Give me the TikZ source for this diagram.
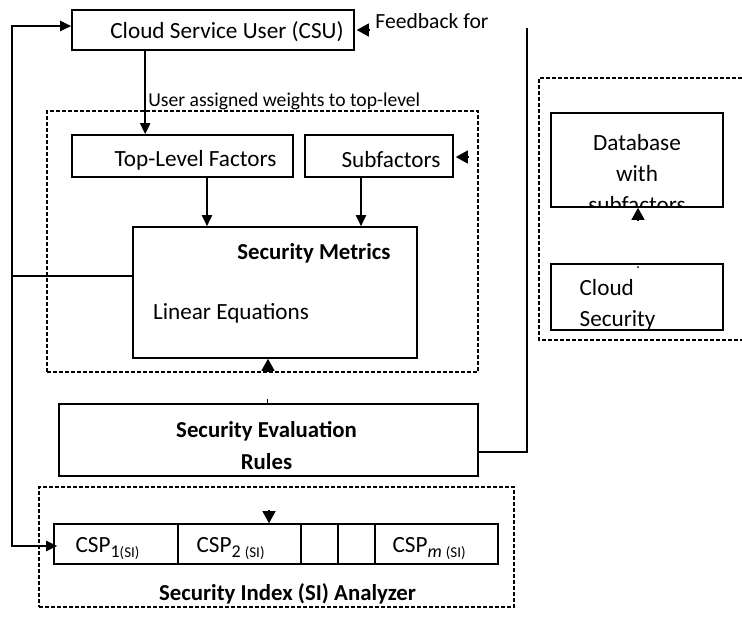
\documentclass[tikz,border=0pt]{standalone}
\usepackage{fontspec}
\setmainfont{Carlito}
\usetikzlibrary{arrows.meta, positioning, calc, fit}
\newcommand{\cspsub}[1]{\raisebox{-2.5pt}{\fontsize{9}{10}\selectfont #1}}
\newcommand{\sitag}{{\fontsize{7.5}{9}\selectfont(SI)}}
\tikzset{
	box/.style     ={rectangle, draw=black, line width=0.8pt, inner sep=0pt},
	dashline/.style={draw=black, line width=0.7pt, dash pattern=on 2pt off 1pt},
	frame/.style   ={rectangle, dashline, inner sep=0pt},
	wire/.style    ={line width=1pt},
	sig/.style     ={-{Triangle[length=5.5pt, width=5pt]}, line width=1pt},
	head/.style    ={-{Triangle[length=6pt, width=6.5pt]}, line width=0.6pt},
	lbl/.style     ={inner sep=0pt, align=center},
	bold/.style    ={lbl, font=\fontsize{11.4}{16}\selectfont\bfseries},
}
\begin{document}
\begin{tikzpicture}[x=0.5pt, y=-0.5pt, font=\fontsize{11.6}{15.5}\selectfont]
	\useasboundingbox (0,0) rectangle (742,617);
	% blocks
	\node[box, fit={(72,10) (354,50)}] (csu) {};
	\node[box, fit={(72,135) (293,177)}] (tlf) {};
	\node[box, fit={(305,135) (453,177)}] (subf) {};
	\node[box, fit={(133,227) (417,358)}] (sm) {};
	\node[box, fit={(59,404) (478,476)}] (rules) {};
	\node[box, fit={(551,113) (723,207)}] (db) {};
	\node[box, fit={(551,264) (723,330)}] (cs) {};
	\foreach \n/\a/\b in {1/54/178, 2/178/301, 3/301/338, 4/338/375, 5/375/498}
		\node[box, fit={(\a,524) (\b,564)}] (csp\n) {};
	% dashed frames
	\node[frame, fit={(47,111) (478,372)}] (evalf) {};
	\node[frame, fit={(39,487) (514,607)}] (sif) {};
	\draw[dashline] (742,78) -- (539,78) -- (539,340) -- (742,340);
	% texts
	\node[lbl] at ($(csu.center)+(14,2)$) {Cloud Service User (CSU)};
	\node[lbl, anchor=west, font=\fontsize{10.8}{13}\selectfont] at (375,21) {Feedback for};
	\node[lbl, anchor=west, font=\fontsize{9.8}{12}\selectfont] at (148,101) {User assigned weights to top-level};
	\node[lbl] at ($(tlf.center)+(13,4)$) {Top-Level Factors};
	\node[lbl] at ($(subf.center)+(12,4)$) {Subfactors};
	\node[bold] at ($(sm.center)+(39,-39)$) {Security Metrics};
	\node[lbl] at ($(sm.center)+(-44,21)$) {Linear Equations};
	\node[bold] at ($(rules.center)+(-2,6)$) {Security Evaluation\\Rules};
	\begin{scope}
		\clip (db.south west) rectangle (db.north east);
		\node[lbl] at ($(db.center)+(0,14)$) {Database\\with\\subfactors};
	\end{scope}
	\begin{scope}
		\clip (cs.south west) rectangle (cs.north east);
		\node[lbl, anchor=west, align=left] at ($(cs.west)+(29,8)$) {Cloud\\Security};
	\end{scope}
	\node[lbl, anchor=west] at ($(csp1.west)+(22,4)$) {CSP\cspsub{1\sitag}};
	\node[lbl, anchor=west] at ($(csp2.west)+(19,4)$) {CSP\cspsub{2 \sitag}};
	\node[lbl, anchor=west] at ($(csp5.west)+(18,4)$) {CSP\cspsub{\textit{m} \sitag}};
	\node[bold] at ($(sif.center)+(11,47)$) {Security Index (SI) Analyzer};
	% connectors
	\coordinate (j) at (12,276);
	\draw[sig] (j) |- ($(csu.west)+(0,-4)$);
	\draw[sig] (j) |- ($(csp1.west)+(4,2)$);
	\draw[wire] (j) -- (j -| sm.west);
	\coordinate (u) at ($(csu.south west)+(74,0)$);
	\draw[sig] (u) -- (u |- tlf.north);
	\draw[sig] (tlf.south -| 207,0) -- (sm.north -| 207,0);
	\draw[sig] (subf.south -| 361,0) -- (sm.north -| 361,0);
	\draw[wire] (527,28) |- ($(rules.east)+(0,12)$);
	% loose arrow heads
	\draw[head] ($(csu.east)+(15,0)$) -- ($(csu.east)+(2,0)$);
	\draw[head] ($(subf.east)+(15,1)$) -- ($(subf.east)+(2,1)$);
	\draw[head] ($(sm.south)+(-7,13)$) -- ($(sm.south)+(-7,0)$);
	\draw[head] ($(db.south)+(1,13)$) -- ($(db.south)+(1,0)$);
	\draw[head] ($(csp2.north)+(29.5,-13)$) -- ($(csp2.north)+(29.5,0)$);
	\draw[line width=0.4pt] ($(rules.north)+(-1.5,-4)$) -- ($(rules.north)+(-1.5,1)$);
	\fill ($(cs.north)+(1,4)$) circle (0.5pt);
\end{tikzpicture}
\end{document}
